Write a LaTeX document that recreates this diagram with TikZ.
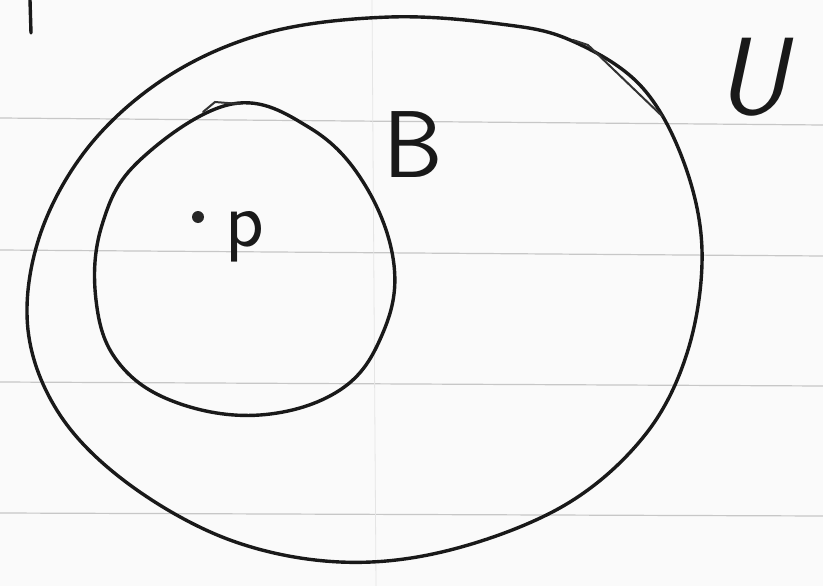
\documentclass[tikz,border=0pt]{standalone}
\usepackage{fontspec}
\setmainfont{DejaVu Sans}
\begin{document}
\begin{tikzpicture}[x=1pt,y=-1pt,
  pen/.style={line width=3.4pt,black!90,line cap=round,line join=round},
  ruling/.style={line width=1.2pt,black!22},
  hand/.style={text=black!90,inner sep=0pt}]
\useasboundingbox (0,0) rectangle (823,586);
\fill[white!96!gray] (0,0) rectangle (823,586);
% paper ruling
\draw[ruling] (0,118) -- (823,125);
\draw[ruling] (0,250) -- (823,256);
\draw[ruling] (0,382) -- (823,386);
\draw[ruling] (0,513) -- (823,516);
\draw[line width=0.8pt,black!10] (372,0) -- (376,586);
% top-left stroke
\draw[pen] (30,0) -- (31,33);
% outer region U
\draw[pen] plot[smooth cycle,tension=0.6] coordinates {
 (390,17) (500,24) (570,40) (640,85) (683,160) (702,250) (688,350)
 (645,435) (565,505) (450,550) (340,562) (230,540) (130,485)
 (60,415) (28,330) (40,235) (90,145) (170,75) (270,32)};
\draw[line width=2pt,black!80,line cap=round] (573,40) -- (588,45) -- (662,116);
% inner circle B
\draw[pen] plot[smooth cycle,tension=0.65] coordinates {
 (232,104) (310,128) (365,185) (394,265) (382,335) (340,390)
 (260,415) (175,402) (118,362) (96,300) (102,225) (140,160)};
\draw[line width=2pt,black!80,line cap=round] (203,112) -- (215,102) -- (240,104);
% point p
\fill[black!85] (198,217) circle (6);
\node[hand,font=\fontsize{80}{80}\selectfont\sffamily,anchor=base] (p) at (245,246) {p};
\node[hand,font=\fontsize{95}{95}\selectfont\sffamily,anchor=base] (B) at (413,178) {B};
\node[hand,font=\fontsize{110}{110}\selectfont\itshape\sffamily,anchor=base] (U) at (752,115) {U};
\end{tikzpicture}
\end{document}
